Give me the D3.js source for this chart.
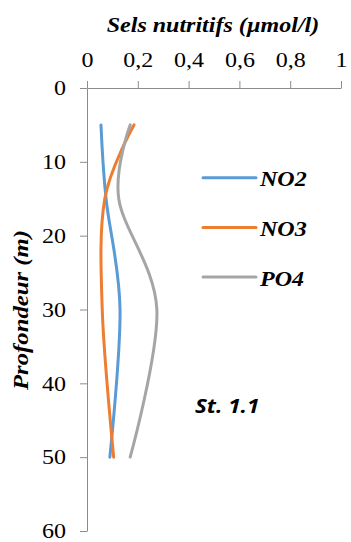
<!DOCTYPE html>
<html><head><meta charset="utf-8">
<script src="https://cdn.jsdelivr.net/npm/d3@7"></script>
<style>
html,body{margin:0;padding:0;background:#fff;}
svg{display:block;}
.tnr{font-family:"Liberation Serif","Times New Roman",Tinos,Times,serif;font-size:20px;}
.tb{font-weight:bold;font-style:italic;}
.cal{font-family:"Open Sans","Liberation Sans",sans-serif;font-size:20px;font-weight:bold;font-style:italic;}
</style>
</head><body>
<svg id="chart" width="351" height="542"></svg>
<script>
// ---- data ----
const depths = [5, 15, 30, 50];
const no2 = [0.055, 0.075, 0.13, 0.09];
const no3 = [0.185, 0.07, 0.06, 0.105];
const po4 = [0.17, 0.125, 0.275, 0.17];
const seriesNames = ["NO2", "NO3", "PO4"];
const xTicks = [0, 0.2, 0.4, 0.6, 0.8, 1];
const yTicks = [0, 10, 20, 30, 40, 50, 60];
const xTitle = "Sels nutritifs (µmol/l)";
const yTitle = "Profondeur (m)";
const stationLabel = "St. 1.1";

// ---- layout ----
const colors = ["#5B9BD5", "#ED7D31", "#A5A5A5"];
const FF = "Liberation Serif";
const SX = 1.2;
const svg = d3.select("#chart");
svg.append("rect").attr("width", 351).attr("height", 542).attr("fill", "#fff");

function stretch(sel, k) {
  sel.each(function () {
    const len = this.getComputedTextLength();
    if (len > 0) d3.select(this).attr("textLength", len * k).attr("lengthAdjust", "spacingAndGlyphs");
  });
}

const x = d3.scaleLinear().domain([0, 1]).range([87, 341]);
const y = d3.scaleLinear().domain([0, 60]).range([88, 531]);
const axisColor = "#8c8c8c";
const fmt = d => d3.format("~g")(d).replace(".", ",");

const gx = svg.append("g").attr("transform", `translate(0,${y(0)})`)
  .call(d3.axisTop(x).tickValues(xTicks).tickFormat(fmt).tickSize(7).tickSizeOuter(0).tickPadding(14));
const gy = svg.append("g").attr("transform", `translate(${x(0)},0)`)
  .call(d3.axisLeft(y).tickValues(yTicks).tickFormat(d3.format("d")).tickSize(7).tickSizeOuter(0).tickPadding(14));
[gx, gy].forEach(g => {
  g.attr("font-family", FF).attr("font-size", 20);
  g.select(".domain").attr("stroke", axisColor).attr("stroke-width", 1);
  g.selectAll(".tick line").attr("stroke", axisColor).attr("stroke-width", 1);
  g.selectAll(".tick text").attr("fill", "#000").attr("class", "tnr").attr("font-family", FF);
  stretch(g.selectAll(".tick text"), SX);
});
gy.selectAll(".tick text").attr("dy", "0.34em");

// titles
const t1 = svg.append("text").attr("class", "tnr tb").attr("font-family", FF)
  .attr("x", 213).attr("y", 32).attr("text-anchor", "middle").text(xTitle);
stretch(t1, SX);
const t2 = svg.append("text").attr("class", "tnr tb").attr("font-family", FF)
  .attr("transform", "translate(28,310) rotate(-90)").attr("text-anchor", "middle").text(yTitle);
stretch(t2, SX * 1.03);

// series
const allSeries = [no2, no3, po4];
const line = d3.line().x(d => x(d[1])).y(d => y(d[0])).curve(d3.curveCardinal.tension(0));
allSeries.forEach((vals, i) => {
  svg.append("path").datum(depths.map((dp, k) => [dp, vals[k]]))
    .attr("d", line).attr("fill", "none").attr("stroke", colors[i])
    .attr("stroke-width", 3).attr("stroke-linecap", "round");
});

// legend
const legY = [177.7, 227.5, 277];
seriesNames.forEach((n, i) => {
  svg.append("line").attr("x1", 203).attr("x2", 256).attr("y1", legY[i]).attr("y2", legY[i])
    .attr("stroke", colors[i]).attr("stroke-width", 3).attr("stroke-linecap", "round");
  const t = svg.append("text").attr("class", "tnr tb").attr("font-family", FF)
    .attr("x", 260).attr("y", legY[i] + 8.5).text(n);
  stretch(t, SX);
});

// station label
const t3 = svg.append("text").attr("class", "cal").attr("x", 195).attr("y", 413)
  .attr("fill", "#000").text(stationLabel);
stretch(t3, 1.12);
</script>
</body></html>
